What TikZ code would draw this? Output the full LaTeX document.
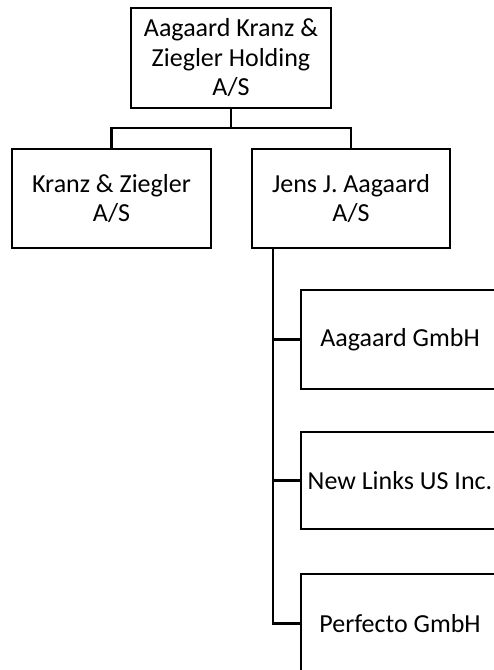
\documentclass[tikz,border=0pt]{standalone}
\usepackage{fontspec}
\setmainfont{Carlito}
\begin{document}
\begin{tikzpicture}[x=1pt,y=-1pt,
  orgbox/.style={draw=black,line width=2.6pt,fill=white,align=center,inner sep=0pt,
    font=\fontsize{26}{29.5}\selectfont},
  link/.style={draw=black,line width=2.6pt}]
\useasboundingbox (0,0) rectangle (494,670);
\clip (0,0) rectangle (494,670);
\fill[white] (0,0) rectangle (494,670);
\node[orgbox,minimum width=200pt,minimum height=100pt] (top) at (231,58) {Aagaard Kranz \&\\Ziegler Holding\\A/S};
\node[orgbox,minimum width=199pt,minimum height=99pt] (left) at (111.5,198.5) {Kranz \& Ziegler\\A/S};
\node[orgbox,minimum width=198pt,minimum height=99pt] (right) at (351,198.5) {Jens J. Aagaard\\A/S};
\node[orgbox,minimum width=198pt,minimum height=99pt] (ag) at (400,339.5) {Aagaard GmbH};
\node[orgbox,minimum width=198pt,minimum height=97pt] (nl) at (400,480.5) {New Links US Inc.};
\node[orgbox,minimum width=198pt,minimum height=99pt] (pf) at (400,623.5) {Perfecto GmbH};
\coordinate (bus) at (231,128);
\coordinate (trunk) at (273,248);
\draw[link] (top.south) -- (bus);
\draw[link] (left.north) |- (bus) -| (right.north);
\draw[link] (trunk) |- (pf.west);
\draw[link] (trunk |- ag.west) -- (ag.west);
\draw[link] (trunk |- nl.west) -- (nl.west);
\end{tikzpicture}
\end{document}
